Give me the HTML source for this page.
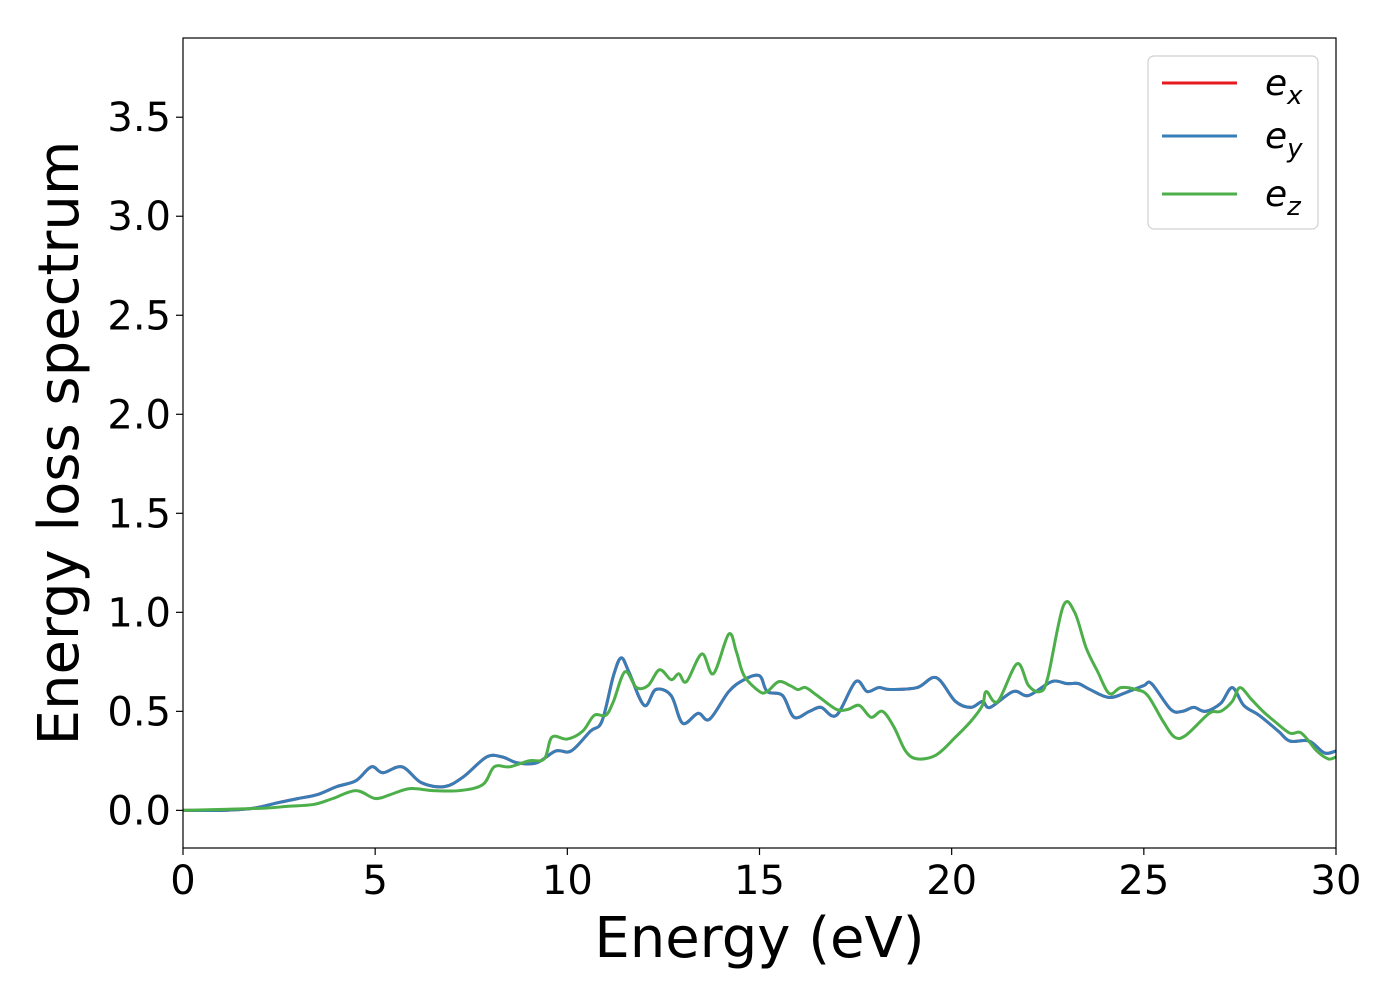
<!DOCTYPE html>
<html><head><meta charset="utf-8"><style>
body{margin:0;background:#fff}
text{font-family:"DejaVu Sans","Liberation Sans",sans-serif}
</style></head><body>
<svg id="chart" width="1400" height="1000" xmlns="http://www.w3.org/2000/svg">
<g id="plot"></g>
<g id="axes"></g>
</svg>
<script>
const xTicks=[0,5,10,15,20,25,30];
const yTicks=[0.0,0.5,1.0,1.5,2.0,2.5,3.0,3.5];
const xTickLabels=["0","5","10","15","20","25","30"];
const yTickLabels=["0.0","0.5","1.0","1.5","2.0","2.5","3.0","3.5"];
const eyE=[0,1,1.8,2.5,3,3.5,4,4.5,4.9,5.2,5.7,6.2,6.8,7.3,7.9,8.3,8.7,9.2,9.7,10.1,10.6,10.9,11.2,11.4,11.6,12.0,12.3,12.7,13.0,13.4,13.7,14.2,14.6,15.0,15.2,15.6,15.9,16.3,16.6,17.0,17.5,17.8,18.1,18.4,19.1,19.6,20.1,20.5,20.8,21.0,21.6,22.0,22.6,23.0,23.3,23.6,24.1,24.6,25.0,25.2,25.7,26.0,26.3,26.6,27.0,27.3,27.6,28.0,28.5,28.8,29.3,29.7,30];
const eyV=[0,0,0.01,0.04,0.06,0.08,0.12,0.15,0.22,0.19,0.22,0.14,0.12,0.17,0.27,0.27,0.24,0.24,0.30,0.30,0.40,0.45,0.68,0.77,0.70,0.53,0.61,0.58,0.44,0.49,0.46,0.60,0.66,0.68,0.60,0.58,0.47,0.50,0.52,0.48,0.65,0.60,0.62,0.61,0.62,0.67,0.55,0.52,0.55,0.52,0.60,0.58,0.65,0.64,0.64,0.61,0.57,0.60,0.63,0.64,0.51,0.50,0.52,0.50,0.54,0.62,0.53,0.48,0.40,0.35,0.35,0.29,0.30];
const exE=eyE.slice();
const exV=eyV.slice();
const ezE=[0,2,2.7,3.4,3.9,4.5,5.0,5.4,5.9,6.5,7.2,7.8,8.1,8.5,9.0,9.4,9.6,10.0,10.4,10.7,11.0,11.2,11.5,11.8,12.1,12.4,12.7,12.9,13.1,13.5,13.8,14.2,14.4,14.6,15.0,15.2,15.5,15.8,16.0,16.2,16.5,17.0,17.3,17.6,17.9,18.2,18.5,18.8,19.1,19.6,20.1,20.5,20.8,20.9,21.2,21.7,22.0,22.3,22.5,22.9,23.2,23.5,23.8,24.1,24.4,24.8,25.1,25.5,25.8,26.1,26.7,27.0,27.3,27.5,27.8,28.1,28.4,28.8,29.1,29.5,29.8,30];
const ezV=[0,0.01,0.02,0.03,0.06,0.10,0.06,0.08,0.11,0.10,0.10,0.13,0.22,0.22,0.25,0.26,0.37,0.36,0.40,0.48,0.48,0.55,0.70,0.62,0.63,0.71,0.66,0.69,0.65,0.79,0.69,0.89,0.80,0.68,0.60,0.60,0.65,0.63,0.61,0.62,0.58,0.51,0.51,0.53,0.47,0.50,0.42,0.30,0.26,0.28,0.37,0.45,0.53,0.60,0.55,0.74,0.63,0.60,0.67,1.03,1.00,0.82,0.70,0.59,0.62,0.61,0.58,0.45,0.37,0.38,0.49,0.50,0.55,0.62,0.56,0.50,0.45,0.39,0.39,0.30,0.26,0.27];

const L=183,R=1336,T=38,B=848;
const xMin=0,xMax=30,yMin=-0.19,yMax=3.9;
const sx=v=>L+(v-xMin)/(xMax-xMin)*(R-L);
const sy=v=>B-(v-yMin)/(yMax-yMin)*(B-T);
const NS="http://www.w3.org/2000/svg";
function mk(tag,attrs,parent){const e=document.createElementNS(NS,tag);for(const k in attrs)e.setAttribute(k,attrs[k]);parent.appendChild(e);return e;}
function smoothPath(xs,ys){
  const p=xs.map((x,i)=>[sx(x),sy(ys[i])]);
  let d="M"+p[0][0].toFixed(2)+","+p[0][1].toFixed(2);
  for(let i=0;i<p.length-1;i++){
    const p0=p[Math.max(0,i-1)],p1=p[i],p2=p[i+1],p3=p[Math.min(p.length-1,i+2)];
    const c1=[p1[0]+(p2[0]-p0[0])/6,p1[1]+(p2[1]-p0[1])/6];
    const c2=[p2[0]-(p3[0]-p1[0])/6,p2[1]-(p3[1]-p1[1])/6];
    d+=" C"+c1[0].toFixed(2)+","+c1[1].toFixed(2)+" "+c2[0].toFixed(2)+","+c2[1].toFixed(2)+" "+p2[0].toFixed(2)+","+p2[1].toFixed(2);
  }
  return d;
}
const plot=document.getElementById('plot'),axes=document.getElementById('axes');
mk('clipPath',{id:'clip'},plot).appendChild(document.createElementNS(NS,'rect'));
const cr=plot.querySelector('#clip rect');cr.setAttribute('x',L);cr.setAttribute('y',T);cr.setAttribute('width',R-L);cr.setAttribute('height',B-T);
const series=[["ex",exE,exV,"#e41a1c"],["ey",eyE,eyV,"#377eb8"],["ez",ezE,ezV,"#4daf4a"]];
series.forEach(s=>{
  const p=mk('path',{d:smoothPath(s[1],s[2]),fill:"none",stroke:s[3],"stroke-width":3,"clip-path":"url(#clip)"},plot);
  
  
});
const frame=mk('rect',{x:L,y:T,width:R-L,height:B-T,fill:"none",stroke:"#000","stroke-width":1.2},axes);

xTicks.forEach((v,i)=>{
  const x=sx(v);
  mk('line',{x1:x,y1:B,x2:x,y2:B+7,stroke:"#000","stroke-width":1.2},axes);
  const t=mk('text',{x:x,y:B+46,"font-size":40,"text-anchor":"middle"},axes);t.textContent=xTickLabels[i];
  
});
yTicks.forEach((v,i)=>{
  const y=sy(v);
  mk('line',{x1:L-7,y1:y,x2:L,y2:y,stroke:"#000","stroke-width":1.2},axes);
  const t=mk('text',{x:L-12,y:y+14,"font-size":40,"text-anchor":"end"},axes);t.textContent=yTickLabels[i];
  
});
const xt=mk('text',{x:(L+R)/2,y:957,"font-size":56,"text-anchor":"middle"},axes);xt.textContent="Energy (eV)";

const yt=mk('text',{x:0,y:0,"font-size":56,"text-anchor":"middle",transform:"translate(78,"+((T+B)/2)+") rotate(-90)"},axes);yt.textContent="Energy loss spectrum";

// legend
const lg=mk('g',{},axes);

mk('rect',{x:1148,y:56,width:170,height:173,rx:6,fill:"#fff",stroke:"#d0d0d0","stroke-width":1.2},lg);
const legY=[83,136,194],legSub=["x","y","z"];
series.forEach((s,i)=>{
  const ln=mk('line',{x1:1162,y1:legY[i],x2:1237,y2:legY[i],stroke:s[3],"stroke-width":3},lg);
  
  const t=mk('text',{x:1265,y:legY[i]+12,"font-size":36,"font-style":"italic"},lg);
  
  t.appendChild(document.createTextNode("e"));
  const ts=mk('tspan',{"font-size":26,dy:9},t);ts.textContent=legSub[i];
});
</script>
</body></html>
